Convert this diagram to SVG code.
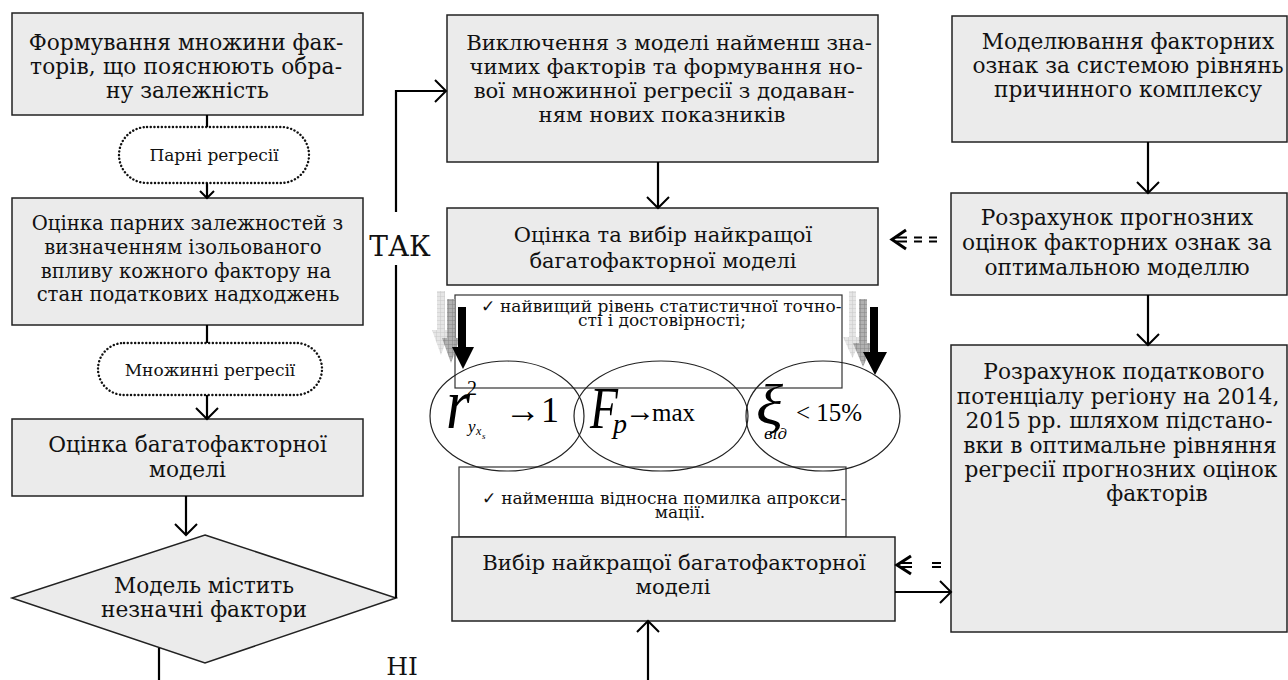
<svg xmlns="http://www.w3.org/2000/svg" width="1288" height="680" viewBox="0 0 1288 680">
<defs>
<style>
.box{fill:#ebebeb;stroke:#222;stroke-width:1.5}
.t{font-family:"DejaVu Serif","Liberation Serif",serif;font-size:21.7px;fill:#111;text-anchor:middle}
.s{font-size:17px}
.c{font-family:"DejaVu Serif","Liberation Serif",serif;font-size:17px;fill:#111;text-anchor:middle}
.dot{fill:#fff;stroke:#111;stroke-width:2.4;stroke-dasharray:0.1 3.6;stroke-linecap:round}
.ln{fill:none;stroke:#000;stroke-width:2.2}
.crit{fill:#fff;stroke:#333;stroke-width:1.2}
.ell{fill:none;stroke:#222;stroke-width:1.2}
.m{font-family:"Liberation Serif","DejaVu Serif",serif;font-style:italic;fill:#000}
.n{font-family:"Liberation Serif","DejaVu Serif",serif;fill:#000}
</style>
<marker id="ah" markerUnits="userSpaceOnUse" markerWidth="24" markerHeight="24" viewBox="0 0 24 24" refX="12" refY="12" orient="auto">
<path d="M1,1 L12,12 L1,23" fill="none" stroke="#000" stroke-width="2"/>
</marker>
<marker id="as" markerUnits="userSpaceOnUse" markerWidth="24" markerHeight="24" viewBox="0 0 24 24" refX="12" refY="12" orient="auto">
<path d="M5,5 L12,12 L5,19" fill="none" stroke="#000" stroke-width="2"/>
</marker>
<pattern id="chk1" width="4" height="4" patternUnits="userSpaceOnUse">
<rect width="4" height="4" fill="#e2e2e2"/>
<path d="M0,0 H4 M0,0 V4" stroke="#c4c4c4" stroke-width="1"/>
</pattern>
<pattern id="chk2" width="4" height="4" patternUnits="userSpaceOnUse">
<rect width="4" height="4" fill="#a8a8a8"/>
<path d="M0,0 H4 M0,0 V4" stroke="#7a7a7a" stroke-width="1"/>
</pattern>
</defs>
<rect width="1288" height="680" fill="#fff"/>

<g id="n1">
<rect class="box" x="12" y="13" width="351" height="102"/>
<text class="t" x="186" y="50">Формування множини фак-</text>
<text class="t" x="186" y="74" textLength="312" lengthAdjust="spacing">торів, що пояснюють обра-</text>
<text class="t" x="187.5" y="98">ну залежність</text>
</g>
<g id="n2">
<rect class="dot" x="119" y="127" width="190" height="56" rx="28"/>
<text class="t s" x="214" y="161">Парні регресії</text>
</g>
<g id="n3">
<rect class="box" x="12" y="198" width="351" height="127"/>
<text class="t" x="187.5" y="230" style="font-size:19.6px">Оцінка парних залежностей з</text>
<text class="t" x="183" y="254" style="font-size:19.6px">визначенням ізольованого</text>
<text class="t" x="186" y="278" style="font-size:19.6px">впливу кожного фактору на</text>
<text class="t" x="188" y="301" style="font-size:19.6px">стан податкових надходжень</text>
</g>
<g id="n4">
<rect class="dot" x="98" y="343" width="224" height="52" rx="26"/>
<text class="t s" x="210" y="376">Множинні регресії</text>
</g>
<g id="n5">
<rect class="box" x="12" y="419" width="351" height="77"/>
<text class="t" x="187.5" y="452">Оцінка багатофакторної</text>
<text class="t" x="187.5" y="477">моделі</text>
</g>
<g id="n6">
<polygon class="box" points="205,535 396,598 205,663 12,598"/>
<text class="t" x="204" y="593">Модель містить</text>
<text class="t" x="204" y="617">незначні фактори</text>
</g>
<g id="n7">
<rect class="box" x="447" y="15" width="431" height="147"/>
<text class="t" x="669" y="50" style="font-size:21.2px">Виключення з моделі найменш зна-</text>
<text class="t" x="666" y="74" style="font-size:21.2px">чимих факторів та формування но-</text>
<text class="t" x="664" y="98" style="font-size:21.2px">вої множинної регресії з додаван-</text>
<text class="t" x="662" y="122" style="font-size:21.2px">ням нових показників</text>
</g>
<g id="n8">
<rect class="box" x="447" y="208" width="431" height="77"/>
<text class="t" x="663" y="242" style="font-size:21px">Оцінка та вибір найкращої</text>
<text class="t" x="663" y="268" style="font-size:21px">багатофакторної моделі</text>
</g>
<g id="n9">
<rect class="box" x="952" y="16" width="335" height="126"/>
<text class="t" x="1128" y="49">Моделювання факторних</text>
<text class="t" x="1128" y="73">ознак за системою рівнянь</text>
<text class="t" x="1128" y="97">причинного комплексу</text>
</g>
<g id="n10">
<rect class="box" x="951" y="193" width="336" height="102"/>
<text class="t" x="1117" y="225">Розрахунок прогнозних</text>
<text class="t" x="1117" y="250">оцінок факторних ознак за</text>
<text class="t" x="1117" y="275">оптимальною моделлю</text>
</g>
<g id="n11">
<rect class="box" x="951" y="345" width="336" height="287"/>
<text class="t" x="1124" y="379">Розрахунок податкового</text>
<text class="t" x="1118" y="404">потенціалу регіону на 2014,</text>
<text class="t" x="1119" y="428">2015 рр. шляхом підстано-</text>
<text class="t" x="1120" y="453">вки в оптимальне рівняння</text>
<text class="t" x="1121" y="477">регресії прогнозних оцінок</text>
<text class="t" x="1157" y="501">факторів</text>
</g>

<g id="n12">
<rect class="crit" x="455" y="295" width="387" height="93"/>
<text class="c" x="661" y="312">✓ найвищий рівень статистичної точно-</text>
<text class="c" x="662" y="326">сті і достовірності;</text>
</g>
<g id="n13">
<rect class="crit" x="459" y="467" width="387" height="70"/>
<text class="c" x="664" y="504">✓ найменша відносна помилка апрокси-</text>
<text class="c" x="680" y="518">мації.</text>
</g>
<g id="n14">
<ellipse class="ell" cx="507" cy="416" rx="77" ry="55"/>
<text class="m" x="446" y="428" font-size="72" textLength="24" lengthAdjust="spacingAndGlyphs">r</text>
<text class="n" x="467" y="395" font-size="20">2</text>
<text class="m" x="468" y="432" font-size="17">y</text>
<text class="m" x="476" y="435" font-size="12">x</text>
<text class="m" x="482" y="439" font-size="9">s</text>
<text class="n" x="505" y="422" font-size="36">→1</text>
</g>
<g id="n15">
<ellipse class="ell" cx="661" cy="416" rx="87" ry="55"/>
<text class="m" x="590" y="428" font-size="60" textLength="28" lengthAdjust="spacingAndGlyphs">F</text>
<text class="m" x="613" y="433" font-size="28">p</text>
<text class="n" x="625" y="421" font-size="30">→</text>
<text class="n" x="652" y="421" font-size="25">max</text>
</g>
<g id="n16">
<ellipse class="ell" cx="823" cy="416" rx="77" ry="55"/>
<text class="m" x="756" y="424" font-size="58" textLength="27" lengthAdjust="spacingAndGlyphs">ξ</text>
<text x="764" y="439" font-size="15" font-style="italic" font-family="'DejaVu Serif',serif">від</text>
<text class="n" x="796" y="421" font-size="25">&lt; 15%</text>
</g>
<g id="n17">
<rect class="box" x="452" y="537" width="443" height="84"/>
<text class="t" x="674" y="570" style="font-size:21.2px">Вибір найкращої багатофакторної</text>
<text class="t" x="673" y="594" style="font-size:21.2px">моделі</text>
</g>

<g id="marks">
<polygon points="437,291 445,291 445,330 450,330 441,355 432,330 437,330" fill="url(#chk1)" opacity="0.9"/>
<polygon points="447,299 455,299 455,338 460,338 451,363 442,338 447,338" fill="url(#chk2)" opacity="0.9"/>
<polygon points="458,307 466,307 466,347 474,347 463,369 452,347 458,347" fill="#000"/>
<polygon points="849,291 856,291 856,337 862,337 852.5,358 843,337 849,337" fill="url(#chk1)" opacity="0.9"/>
<polygon points="859,299 867,299 867,343 873,343 863,367 853,343 859,343" fill="url(#chk2)" opacity="0.9"/>
<polygon points="870,307 878,307 878,352 887,352 875,375 863,352 870,352" fill="#000"/>
</g>

<g id="connectors">
<line class="ln" x1="207" y1="115" x2="207" y2="127"/>
<line class="ln" x1="207" y1="183" x2="207" y2="198" marker-end="url(#as)"/>
<line class="ln" x1="207" y1="325" x2="207" y2="343"/>
<line class="ln" x1="207" y1="395" x2="207" y2="419" marker-end="url(#ah)"/>
<line class="ln" x1="186" y1="496" x2="186" y2="535" marker-end="url(#ah)"/>
<line class="ln" x1="159" y1="648" x2="159" y2="682"/>
<polyline class="ln" points="396,598 396,265"/>
<polyline class="ln" points="396,212 396,91 446,91" marker-end="url(#ah)"/>
<line class="ln" x1="658" y1="162" x2="658" y2="208" marker-end="url(#ah)"/>
<line class="ln" x1="1148" y1="142" x2="1148" y2="193" marker-end="url(#ah)"/>
<line class="ln" x1="1148" y1="295" x2="1148" y2="345" marker-end="url(#ah)"/>
<line class="ln" x1="895" y1="592" x2="951" y2="592" marker-end="url(#ah)"/>
<line class="ln" x1="648" y1="682" x2="648" y2="621" marker-end="url(#ah)"/>
<path d="M906,230 L892,239.5 L906,249" fill="none" stroke="#000" stroke-width="3"/>
<path d="M896,237.5 H907 M896,241.5 H907 M914,237.5 H922 M914,241.5 H922 M929,237.5 H937 M929,241.5 H937" stroke="#000" stroke-width="2"/>
<path d="M911,556 L897,565 L911,574" fill="none" stroke="#000" stroke-width="3"/>
<path d="M900,563 H912 M900,567 H912 M932,563 H941 M932,567 H941" stroke="#000" stroke-width="2"/>
<text class="t" x="400" y="256" style="font-size:28px">ТАК</text>
<text class="t" x="402" y="675" style="font-size:25px">НІ</text>
</g>
</svg>
